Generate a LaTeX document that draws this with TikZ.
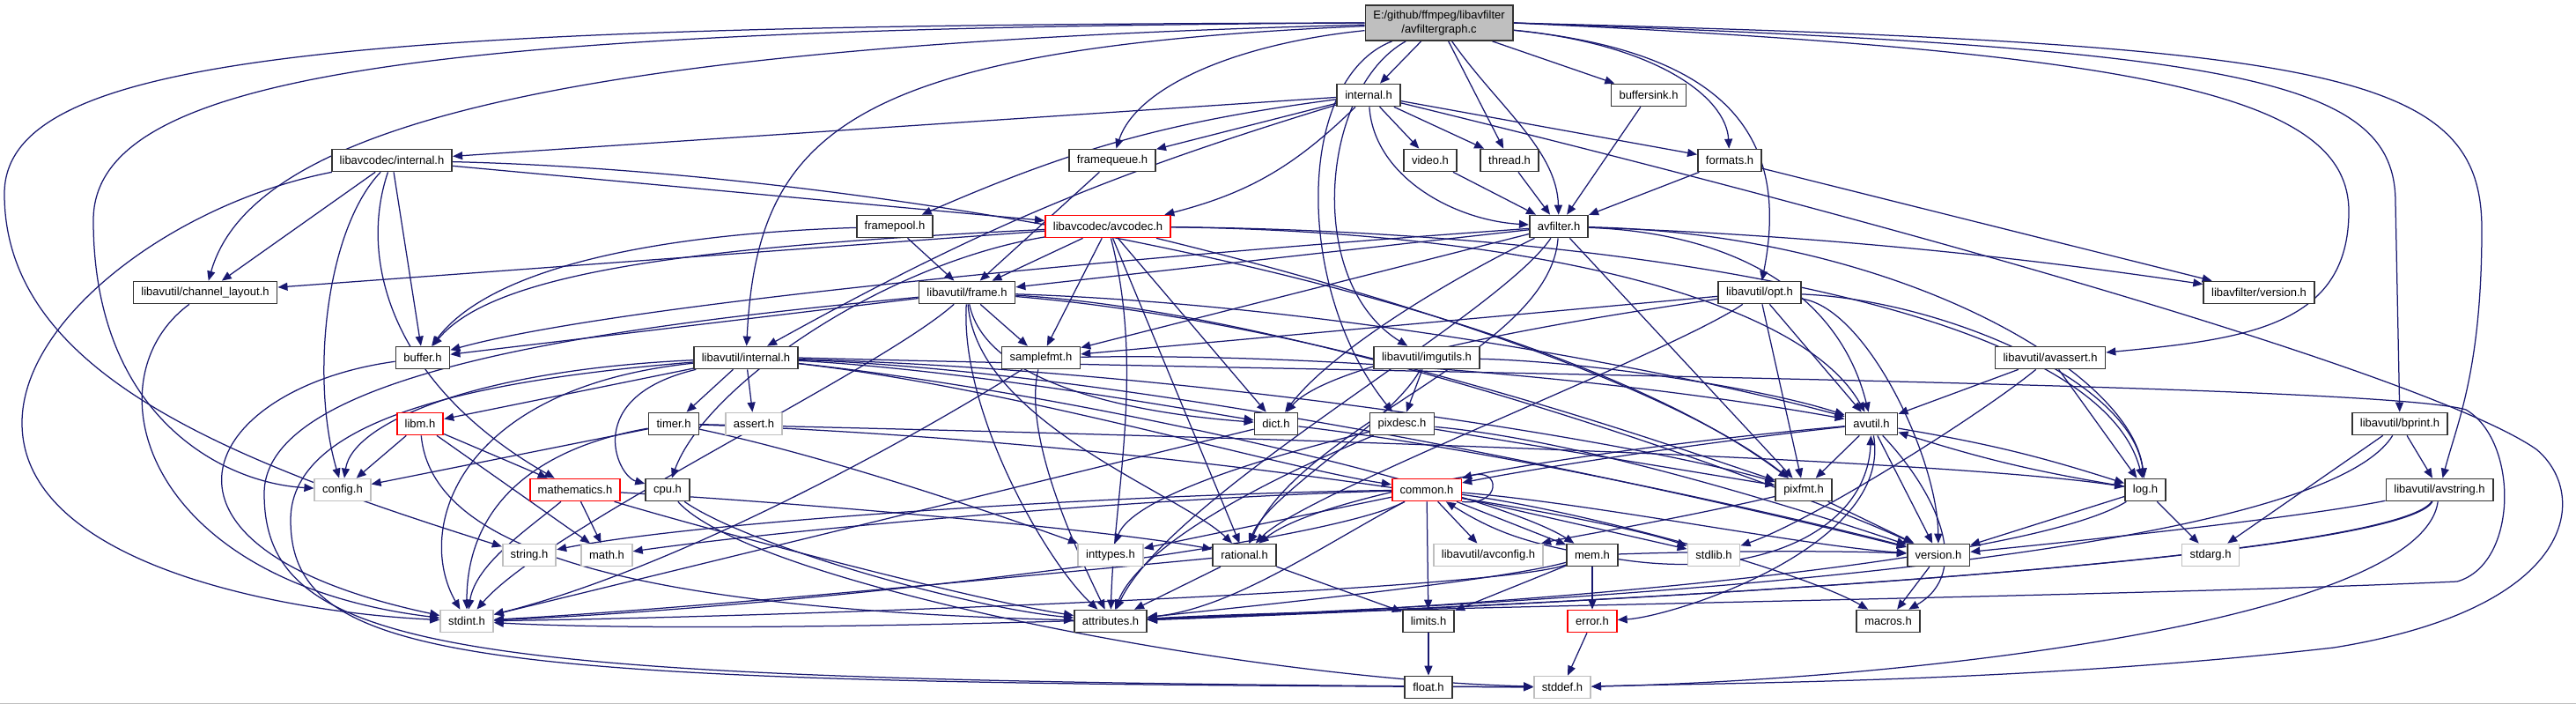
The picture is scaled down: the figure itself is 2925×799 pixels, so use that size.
\documentclass[tikz,border=0pt]{standalone}
\usepackage{fontspec}
\setmainfont{Liberation Sans}
\usetikzlibrary{arrows.meta, backgrounds}
\definecolor{edgeblue}{HTML}{191970}
\definecolor{boxgray}{HTML}{BFBFBF}

\begin{document}
\begin{tikzpicture}[
    x=1pt, y=-1pt,
    hfile/.style={rectangle, draw=black!80, line width=1.7pt, fill=white, minimum height=25pt, inner xsep=9pt, inner ysep=2pt, font=\fontsize{13}{15.5}\selectfont},
    sysfile/.style={hfile, draw=boxgray},
    redfile/.style={hfile, draw=red},
    rootfile/.style={hfile, fill=boxgray, minimum height=40pt, align=center},
    dep/.style={-{Triangle[length=11pt,width=9pt]}, draw=edgeblue, line width=1.25pt, line join=round}
]
\useasboundingbox (0,0) rectangle (2925,799);

% Source file
\node[rootfile] (root) at (1634,26) {E:/github/ffmpeg/libavfilter\\/avfiltergraph.c};

% libavfilter headers
\node[hfile] (fint) at (1554,108) {internal.h};
\node[hfile] (bsink) at (1872,108) {buffersink.h};
\node[hfile] (fqueue) at (1263,182) {framequeue.h};
\node[hfile] (video) at (1624,182) {video.h};
\node[hfile] (thread) at (1714,182) {thread.h};
\node[hfile] (formats) at (1964,182) {formats.h};
\node[hfile] (fpool) at (1016,257) {framepool.h};
\node[hfile] (avfilter) at (1770,257) {avfilter.h};
\node[hfile] (lafver) at (2565,332) {libavfilter/version.h};

% libavcodec headers
\node[hfile] (lacint) at (445,182) {libavcodec/internal.h};
\node[redfile] (avcodec) at (1258,257) {libavcodec/avcodec.h};

% libavutil headers
\node[hfile] (lchan) at (233,332) {libavutil/channel\_layout.h};
\node[hfile] (frame) at (1098,332) {libavutil/frame.h};
\node[hfile] (opt) at (1998,332) {libavutil/opt.h};
\node[hfile] (buffer) at (480,406) {buffer.h};
\node[hfile] (luint) at (847,406) {libavutil/internal.h};
\node[hfile] (sfmt) at (1182,406) {samplefmt.h};
\node[hfile] (imgutils) at (1620,406) {libavutil/imgutils.h};
\node[hfile] (avassert) at (2328,406) {libavutil/avassert.h};
\node[redfile] (libm) at (477,481) {libm.h};
\node[hfile] (timer) at (765,481) {timer.h};
\node[hfile] (dict) at (1449,481) {dict.h};
\node[hfile] (pixdesc) at (1592,481) {pixdesc.h};
\node[hfile] (avutil) at (2125,481) {avutil.h};
\node[hfile] (bprint) at (2725,481) {libavutil/bprint.h};
\node[redfile] (mathem) at (653,556) {mathematics.h};
\node[hfile] (cpu) at (758,556) {cpu.h};
\node[redfile] (common) at (1620,556) {common.h};
\node[hfile] (pixfmt) at (2048,556) {pixfmt.h};
\node[hfile] (logh) at (2436,556) {log.h};
\node[hfile] (avstring) at (2770,556) {libavutil/avstring.h};
\node[hfile] (rational) at (1413,630) {rational.h};
\node[sysfile] (avconfig) at (1690,630) {libavutil/avconfig.h};
\node[hfile] (mem) at (1808,630) {mem.h};
\node[hfile] (version) at (2201,630) {version.h};
\node[hfile] (attributes) at (1261,705) {attributes.h};
\node[hfile] (limits) at (1622,705) {limits.h};
\node[redfile] (error) at (1808,705) {error.h};
\node[hfile] (macros) at (2144,705) {macros.h};
\node[hfile] (floath) at (1622,780) {float.h};

% System headers
\node[sysfile] (assert) at (856,481) {assert.h};
\node[sysfile] (config) at (389,556) {config.h};
\node[sysfile] (stringh) at (601,630) {string.h};
\node[sysfile] (mathh) at (689,630) {math.h};
\node[sysfile] (inttypes) at (1261,630) {inttypes.h};
\node[sysfile] (stdlib) at (1946,630) {stdlib.h};
\node[sysfile] (stdarg) at (2510,630) {stdarg.h};
\node[sysfile] (stdint) at (530,705) {stdint.h};
\node[sysfile] (stddef) at (1774,780) {stddef.h};

\draw[boxgray, line width=1pt] (0,798) -- (2925,798);

\begin{scope}[on background layer]
% Arrows - from avfiltergraph.c
\draw[dep] (root) -- (fint);
\draw[dep] (root) -- (bsink);
\draw[dep] (root) -- (thread);
\draw[dep] (root) .. controls (1700,120) and (1768,170) .. (avfilter);
\draw[dep] (root) .. controls (1400,50) and (1290,100) .. (fqueue);
\draw[dep] (root) .. controls (1880,50) and (1960,110) .. (formats);
\draw[dep] (root) .. controls (1980,60) and (2030,170) .. (opt);
\draw[dep] (root) .. controls (1470,90) and (1470,330) .. (pixdesc);
\draw[dep] (root) .. controls (1500,100) and (1480,320) .. (imgutils);
\draw[dep] (root) .. controls (700,50) and (290,130) .. (lchan);
\draw[dep] (root) .. controls (960,55) and (860,150) .. (luint);
\draw[dep] (root.west) .. controls (500,32) and (106,80) .. (106,250) .. controls (106,470) and (250,548) .. (config);
\draw[dep] (root.west) .. controls (400,28) and (5,60) .. (5,220) .. controls (5,420) and (250,520) .. (stringh);
\draw[dep] (root.east) .. controls (2450,60) and (2667,110) .. (2667,240) .. controls (2667,370) and (2550,385) .. (avassert);
\draw[dep] (root.east) .. controls (2550,55) and (2720,90) .. (2720,230) -- (bprint);
\draw[dep] (root.east) .. controls (2650,50) and (2818,80) .. (2818,260) .. controls (2818,420) and (2790,480) .. (avstring);

% Arrows - from internal.h
\draw[dep] (fint) -- (lacint);
\draw[dep] (fint) -- (fqueue);
\draw[dep] (fint) to[bend right=8] (fpool);
\draw[dep] (fint) to[bend left=15] (avcodec);
\draw[dep] (fint) to[bend right=6] (luint);
\draw[dep] (fint) .. controls (1560,200) and (1650,250) .. (avfilter);
\draw[dep] (fint) -- (video);
\draw[dep] (fint) -- (thread);
\draw[dep] (fint) -- (formats);
\draw[dep] (fint) .. controls (2300,290) and (2780,440) .. (2880,510) .. controls (2940,560) and (2930,690) .. (2650,735) .. controls (2300,775) and (1950,775) .. (stddef);

% Arrows - into avfilter.h
\draw[dep] (bsink) -- (avfilter);
\draw[dep] (video) -- (avfilter);
\draw[dep] (thread) -- (avfilter);
\draw[dep] (formats) -- (avfilter);
\draw[dep] (formats) -- (lafver);

% Arrows - from libavcodec/internal.h
\draw[dep] (lacint) -- (lchan);
\draw[dep] (lacint) -- (buffer);
\draw[dep] (lacint) -- (avcodec);
\draw[dep] (lacint) .. controls (1000,195) and (1750,330) .. (pixfmt);
\draw[dep] (lacint) .. controls (370,260) and (352,430) .. (config);
\draw[dep] (lacint) .. controls (405,300) and (450,440) .. (mathem);
\draw[dep] (lacint) .. controls (200,230) and (25,360) .. (25,480) .. controls (25,640) and (320,695) .. (stdint);

% Arrows - from framepool.h and framequeue.h
\draw[dep] (fpool) .. controls (760,265) and (560,300) .. (buffer);
\draw[dep] (fpool) -- (frame);
\draw[dep] (fqueue) -- (frame);

% Arrows - from libavcodec/avcodec.h
\draw[dep] (avcodec) -- (frame);
\draw[dep] (avcodec) -- (lchan);
\draw[dep] (avcodec) .. controls (780,280) and (560,310) .. (buffer);
\draw[dep] (avcodec) -- (sfmt);
\draw[dep] (avcodec) -- (dict);
\draw[dep] (avcodec) -- (rational);
\draw[dep] (avcodec) .. controls (1000,300) and (800,440) .. (cpu);
\draw[dep] (avcodec) .. controls (1300,420) and (1265,560) .. (attributes);
\draw[dep] (avcodec) .. controls (1700,262) and (2040,330) .. (avutil);
\draw[dep] (avcodec) .. controls (1800,262) and (2380,340) .. (logh);
\draw[dep] (avcodec) .. controls (1600,340) and (1900,440) .. (pixfmt);

% Arrows - from avfilter.h
\draw[dep] (avfilter) -- (frame);
\draw[dep] (avfilter) .. controls (1300,290) and (700,345) .. (buffer);
\draw[dep] (avfilter) -- (sfmt);
\draw[dep] (avfilter) .. controls (1640,320) and (1510,400) .. (dict);
\draw[dep] (avfilter) .. controls (1760,400) and (1480,480) .. (rational);
\draw[dep] (avfilter) -- (pixfmt);
\draw[dep] (avfilter) .. controls (1700,360) and (1330,560) .. (attributes);
\draw[dep] (avfilter) .. controls (1980,265) and (2090,340) .. (avutil);
\draw[dep] (avfilter) .. controls (2150,265) and (2420,420) .. (logh);
\draw[dep] (avfilter) .. controls (2100,268) and (2350,300) .. (lafver);

% Arrows - from libavutil/frame.h
\draw[dep] (frame) -- (buffer);
\draw[dep] (frame) -- (sfmt);
\draw[dep] (frame) .. controls (1120,440) and (1300,470) .. (dict);
\draw[dep] (frame) .. controls (1110,480) and (1340,560) .. (rational);
\draw[dep] (frame) .. controls (1090,470) and (1190,640) .. (attributes);
\draw[dep] (frame) .. controls (1000,420) and (620,600) .. (stdint);
\draw[dep] (frame) .. controls (700,370) and (300,420) .. (300,560) .. controls (300,750) and (540,772) .. (stddef);
\draw[dep] (frame) .. controls (1500,345) and (1900,420) .. (avutil);
\draw[dep] (frame) .. controls (1500,355) and (2050,560) .. (version);
\draw[dep] (frame) .. controls (1500,365) and (1880,500) .. (pixfmt);

% Arrows - channel_layout.h and buffer.h
\draw[dep] (lchan) .. controls (100,430) and (160,660) .. (stdint);
\draw[dep] (buffer) .. controls (230,440) and (130,620) .. (stdint);

% Arrows - from libavutil/opt.h
\draw[dep] (opt) -- (sfmt);
\draw[dep] (opt) .. controls (1880,350) and (1520,400) .. (dict);
\draw[dep] (opt) .. controls (1900,400) and (1480,560) .. (rational);
\draw[dep] (opt) -- (avutil);
\draw[dep] (opt) -- (pixfmt);
\draw[dep] (opt) .. controls (2200,340) and (2420,430) .. (logh);
\draw[dep] (opt) .. controls (2120,350) and (2200,520) .. (version);

% Arrows - from libavutil/internal.h
\draw[dep] (luint) -- (libm);
\draw[dep] (luint) -- (timer);
\draw[dep] (luint) -- (assert);
\draw[dep] (luint) .. controls (540,420) and (400,480) .. (config);
\draw[dep] (luint) .. controls (520,440) and (470,600) .. (stdint);
\draw[dep] (luint) .. controls (660,450) and (700,540) .. (cpu);
\draw[dep] (luint) .. controls (1100,420) and (1350,465) .. (dict);
\draw[dep] (luint) .. controls (1350,420) and (1850,500) .. (pixfmt);
\draw[dep] (luint) .. controls (1150,440) and (1450,530) .. (common);
\draw[dep] (luint) .. controls (1350,425) and (2000,580) .. (version);
\draw[dep] (luint) .. controls (1250,450) and (1700,560) .. (mem);
\draw[dep] (luint) .. controls (560,430) and (330,470) .. (330,590) .. controls (330,760) and (560,775) .. (stddef);
\draw[dep] (luint.east) .. controls (1500,422) and (2700,435) .. (2800,465) .. controls (2860,500) and (2860,640) .. (2790,660) .. controls (2400,678) and (1500,690) .. (attributes);

% Arrows - samplefmt.h, imgutils.h, avassert.h
\draw[dep] (sfmt) .. controls (1000,520) and (750,650) .. (stdint);
\draw[dep] (sfmt) .. controls (1160,500) and (1230,640) .. (attributes);
\draw[dep] (sfmt) .. controls (1550,400) and (1900,440) .. (avutil);
\draw[dep] (imgutils) -- (pixdesc);
\draw[dep] (imgutils) .. controls (1580,480) and (1440,560) .. (rational);
\draw[dep] (imgutils) .. controls (1800,410) and (2000,440) .. (avutil);
\draw[dep] (avassert) -- (avutil);
\draw[dep] (avassert) -- (logh);
\draw[dep] (avassert) .. controls (2250,470) and (2060,590) .. (stdlib);

% Arrows - libm.h and timer.h
\draw[dep] (libm) -- (config);
\draw[dep] (libm) -- (mathem);
\draw[dep] (libm) -- (mathh);
\draw[dep] (libm) .. controls (490,620) and (700,690) .. (attributes);
\draw[dep] (timer) -- (config);
\draw[dep] (timer) .. controls (600,510) and (530,580) .. (stdint);
\draw[dep] (timer) .. controls (950,520) and (1150,590) .. (inttypes);
\draw[dep] (timer) .. controls (1300,500) and (1800,580) .. (stdlib);
\draw[dep] (timer) .. controls (1400,495) and (2200,520) .. (logh);

% Arrows - dict.h and pixdesc.h
\draw[dep] (dict) -- (stdint);
\draw[dep] (dict) .. controls (1700,510) and (2050,590) .. (version);
\draw[dep] (pixdesc) .. controls (1350,540) and (1280,580) .. (inttypes);
\draw[dep] (pixdesc) .. controls (1400,560) and (1290,630) .. (attributes);
\draw[dep] (pixdesc) -- (pixfmt);
\draw[dep] (pixdesc) .. controls (1800,500) and (2050,580) .. (version);

% Arrows - avutil.h and log.h
\draw[dep] (avutil) .. controls (1950,500) and (1750,530) .. (common);
\draw[dep] (avutil) .. controls (2150,620) and (1900,700) .. (error);
\draw[dep] (avutil) .. controls (1800,510) and (1500,560) .. (rational);
\draw[dep] (avutil) -- (pixfmt);
\draw[dep] (avutil) -- (version);
\draw[dep] (avutil) .. controls (2200,560) and (2240,650) .. (macros);
\draw[dep] (avutil) to[bend left=4] (logh);
\draw[dep] (logh) to[bend left=4] (avutil);
\draw[dep] (logh) -- (version);
\draw[dep] (logh) -- (stdarg);
\draw[dep] (logh) .. controls (2300,640) and (1700,690) .. (attributes);
\draw[dep] (pixfmt) -- (version);
\draw[dep] (pixfmt) .. controls (1900,590) and (1780,610) .. (avconfig);

% Arrows - from common.h
\draw[dep] (common.south east) .. controls (1705,575) and (1705,530) .. (common.north east);
\draw[dep] (common) -- (inttypes);
\draw[dep] (common) .. controls (1300,565) and (900,600) .. (mathh);
\draw[dep] (common) .. controls (1300,560) and (800,590) .. (stringh);
\draw[dep] (common) .. controls (1500,620) and (900,690) .. (stdint);
\draw[dep] (common) .. controls (1500,620) and (1400,690) .. (attributes);
\draw[dep] (common) -- (limits);
\draw[dep] (common) -- (avconfig);
\draw[dep] (common) -- (mem);
\draw[dep] (common) -- (stdlib);
\draw[dep] (common) .. controls (1800,580) and (2050,650) .. (macros);
\draw[dep] (common) .. controls (1800,570) and (2050,620) .. (version);

% Arrows - from mem.h
\draw[dep] (mem) -- (error);
\draw[dep] (mem) -- (limits);
\draw[dep] (mem) .. controls (1700,660) and (1400,690) .. (attributes);
\draw[dep] (mem) .. controls (1700,670) and (900,700) .. (stdint);
\draw[dep] (mem) .. controls (2000,660) and (2120,600) .. (avutil);
\draw[dep] (mem) to[bend left=10] (common);
\draw[dep] (mem) .. controls (1950,625) and (2100,625) .. (version);

% Arrows - rational.h, mathematics.h, cpu.h
\draw[dep] (rational) .. controls (1200,650) and (800,690) .. (stdint);
\draw[dep] (rational) -- (limits);
\draw[dep] (rational) -- (attributes);
\draw[dep] (mathem) .. controls (600,600) and (540,640) .. (stdint);
\draw[dep] (mathem) -- (mathh);
\draw[dep] (mathem) .. controls (800,600) and (1100,680) .. (attributes);
\draw[dep] (mathem) .. controls (900,570) and (1250,600) .. (rational);
\draw[dep] (cpu) .. controls (850,620) and (1100,690) .. (attributes);
\draw[dep] (cpu) .. controls (850,660) and (1400,770) .. (stddef);

% Arrows - bprint.h and avstring.h
\draw[dep] (bprint) -- (stdarg);
\draw[dep] (bprint) -- (avstring);
\draw[dep] (bprint) .. controls (2620,650) and (1600,690) .. (attributes);
\draw[dep] (avstring) .. controls (2600,590) and (2300,620) .. (version);
\draw[dep] (avstring) .. controls (2720,640) and (1700,690) .. (attributes);
\draw[dep] (avstring) .. controls (2700,660) and (1000,730) .. (stdint);
\draw[dep] (avstring) .. controls (2750,700) and (2200,770) .. (stddef);

% Arrows - bottom row
\draw[dep] (error) -- (stddef);
\draw[dep] (limits) -- (floath);
\draw[dep] (version) -- (macros);
\end{scope}

\end{tikzpicture}
\end{document}
